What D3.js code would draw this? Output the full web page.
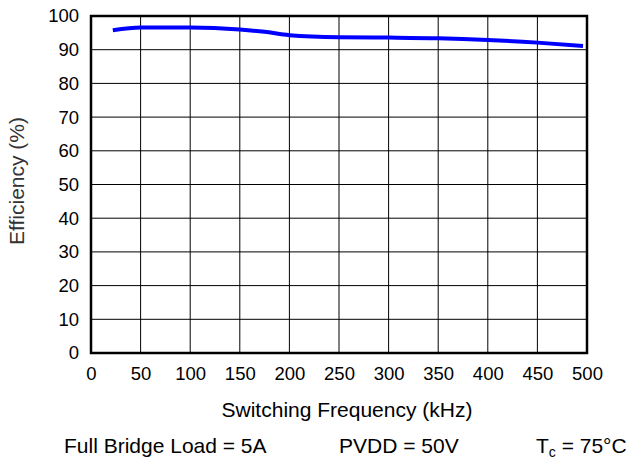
<!DOCTYPE html>
<html><head><meta charset="utf-8">
<script src="https://cdn.jsdelivr.net/npm/d3@7"></script>
<style>
html,body{margin:0;padding:0;background:#fff;}
svg{display:block;font-family:"Liberation Sans",Arial,sans-serif;}
</style></head>
<body>
<svg id="c" width="629" height="459"></svg>
<script>
const freq = [22, 50, 100, 150, 175, 200, 250, 300, 350, 400, 450, 496];
const efficiency = [95.8, 96.6, 96.6, 96.0, 95.3, 94.3, 93.7, 93.6, 93.4, 92.9, 92.1, 91.1];
const xTicks = [0, 50, 100, 150, 200, 250, 300, 350, 400, 450, 500];
const yTicks = [0, 10, 20, 30, 40, 50, 60, 70, 80, 90, 100];
const xTitle = "Switching Frequency (kHz)";
const yTitle = "Efficiency (%)";
const notes = ["Full Bridge Load = 5A", "PVDD = 50V"];

const svg = d3.select("#c");
const x = d3.scaleLinear().domain([0, 500]).range([91, 587]);
const y = d3.scaleLinear().domain([0, 100]).range([353, 16]);

// grid
svg.append("g").selectAll("line").data(xTicks).join("line")
  .attr("x1", d => x(d)).attr("x2", d => x(d)).attr("y1", y(0)).attr("y2", y(100))
  .attr("stroke", "#000").attr("stroke-width", 1);
svg.append("g").selectAll("line").data(yTicks).join("line")
  .attr("x1", x(0)).attr("x2", x(500)).attr("y1", d => y(d)).attr("y2", d => y(d))
  .attr("stroke", "#000").attr("stroke-width", 1);

// frame
svg.append("rect").attr("x", x(0)).attr("y", y(100))
  .attr("width", x(500) - x(0)).attr("height", y(0) - y(100))
  .attr("fill", "none").attr("stroke", "#000").attr("stroke-width", 2.5);

// axes labels via d3 axes (no tick lines)
const xAxis = svg.append("g").attr("transform", `translate(0,${y(0)})`)
  .call(d3.axisBottom(x).tickValues(xTicks).tickSize(0).tickPadding(14));
const yAxis = svg.append("g").attr("transform", `translate(${x(0)},0)`)
  .call(d3.axisLeft(y).tickValues(yTicks).tickSize(0).tickPadding(12));
[xAxis, yAxis].forEach(a => {
  a.select(".domain").remove();
  a.selectAll("text").attr("font-size", 18.5).attr("fill", "#000")
    .attr("font-family", "Liberation Sans, Arial, sans-serif");
});

// curve
const line = d3.line().x((d, i) => x(freq[i])).y(d => y(d)).curve(d3.curveMonotoneX);
svg.append("path").datum(efficiency).attr("d", line)
  .attr("fill", "none").attr("stroke", "#0000ff").attr("stroke-width", 4)
  .attr("stroke-linejoin", "round");

// titles
svg.append("text").attr("x", 347).attr("y", 417).attr("text-anchor", "middle")
  .attr("font-size", 21).text(xTitle);
svg.append("text").attr("transform", `translate(24,181) rotate(-90)`)
  .attr("text-anchor", "middle").attr("font-size", 21).attr("fill", "#333").text(yTitle);

// bottom notes
svg.append("text").attr("x", 64).attr("y", 453).attr("font-size", 21).text(notes[0]);
svg.append("text").attr("x", 339).attr("y", 453).attr("font-size", 21).text(notes[1]);
const t = svg.append("text").attr("x", 536).attr("y", 453).attr("font-size", 21);
t.append("tspan").text("T");
t.append("tspan").attr("font-size", 14).attr("dy", 4).text("c");
t.append("tspan").attr("dy", -4).text(" = 75°C");
</script>
</body></html>
